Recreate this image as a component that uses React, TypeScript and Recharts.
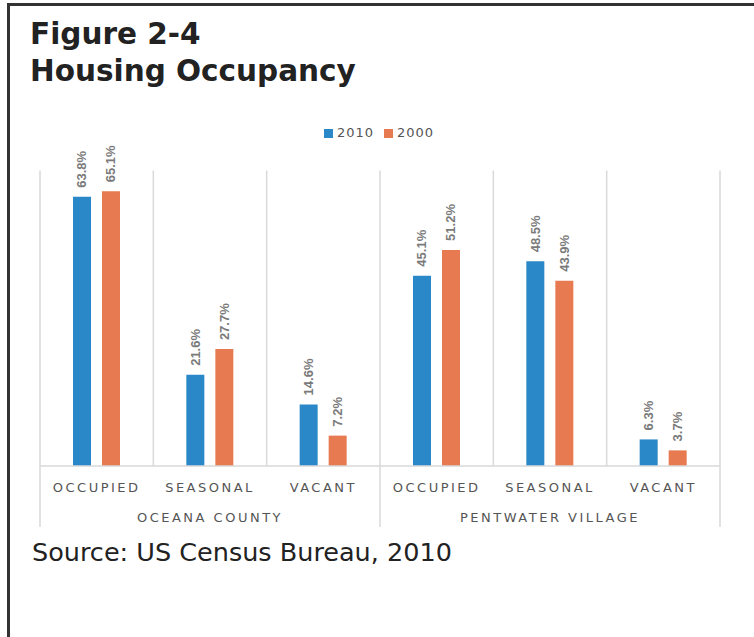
import React from 'react';
import { BarChart, Bar, XAxis, YAxis, CartesianGrid, Legend, LabelList } from 'recharts';

const categories = ['OCCUPIED', 'SEASONAL', 'VACANT', 'OCCUPIED', 'SEASONAL', 'VACANT'];
const groups = ['OCEANA COUNTY', 'OCEANA COUNTY', 'OCEANA COUNTY', 'PENTWATER VILLAGE', 'PENTWATER VILLAGE', 'PENTWATER VILLAGE'];
const values2010 = [63.8, 21.6, 14.6, 45.1, 48.5, 6.3];
const values2000 = [65.1, 27.7, 7.2, 51.2, 43.9, 3.7];
const seriesOrder = ['2010', '2000'];

const data = categories.map((cat, i) => ({
  cat,
  group: groups[i],
  y2010: values2010[i],
  y2000: values2000[i],
}));

const BLUE = '#2a88c9';
const ORANGE = '#e87a51';
const GRID = '#d9d9d9';
const AXIS_TEXT = '#555';

const CategoryTick = (props: any) => {
  const { x, y, payload, index } = props;
  const half = payload?.offset ?? props.width / props.visibleTicksCount / 2;
  const lines: number[] = [];
  // group separators reach below the axis
  if (index === 0 || groups[index] !== groups[index - 1]) lines.push(x - half);
  if (index === categories.length - 1) lines.push(x + half);
  return (
    <g>
      {lines.map((lx) => (
        <line key={lx} x1={lx} x2={lx} y1={y - 8} y2={y + 53} stroke={GRID} strokeWidth={1.5} />
      ))}
      <text
        x={x}
        y={y + 13}
        textAnchor="middle"
        dominantBaseline="central"
        fontFamily="DejaVu Sans"
        fontSize={13}
        letterSpacing={2.5}
        fill={AXIS_TEXT}
      >
        {payload.value}
      </text>
    </g>
  );
};

const GroupTick = (props: any) => {
  const { x, y, payload } = props;
  return (
    <text
      x={x}
      y={y + 7}
      textAnchor="middle"
      dominantBaseline="central"
      fontFamily="DejaVu Sans"
      fontSize={13}
      letterSpacing={2.5}
      fill={AXIS_TEXT}
    >
      {payload.value}
    </text>
  );
};

const RotatedLabel = (props: any) => {
  const { x, y, width, value } = props;
  const cx = x + width / 2;
  const ty = y - 9;
  return (
    <text
      x={cx}
      y={ty}
      transform={`rotate(-90 ${cx} ${ty})`}
      textAnchor="start"
      dominantBaseline="central"
      fontFamily="Liberation Sans"
      fontWeight="bold"
      fontSize={13}
      fill="#7a7a7a"
    >
      {Number(value).toFixed(1)}%
    </text>
  );
};

export default function App() {
  return (
    <div
      style={{
        position: 'absolute',
        left: 0,
        top: 0,
        width: 754,
        height: 637,
        background: '#fff',
        overflow: 'hidden',
      }}
    >
      {/* frame */}
      <div
        style={{
          position: 'absolute',
          left: 7,
          top: 3,
          width: 760,
          height: 650,
          borderLeft: '3px solid #333',
          borderTop: '3px solid #333',
        }}
      />
      <div
        style={{
          position: 'absolute',
          left: 30,
          top: 16,
          fontFamily: 'DejaVu Sans',
          fontWeight: 'bold',
          fontSize: 29.5,
          lineHeight: '37px',
          color: '#222',
        }}
      >
        Figure 2-4
        <br />
        Housing Occupancy
      </div>

      <div style={{ position: 'absolute', left: 0, top: 0 }}>
        <BarChart
          width={754}
          height={637}
          data={data}
          margin={{ top: 170.6, right: 34, bottom: 105, left: 40 }}
          barGap={11}
          barSize={18}
        >
          <CartesianGrid
            horizontal={false}
            stroke={GRID}
            strokeWidth={1.5}
            verticalCoordinatesGenerator={({ offset }: any) =>
              categories.map((_, i) => offset.left + (i * offset.width) / categories.length).concat(offset.left + offset.width)
            }
          />
          <XAxis
            xAxisId="cat"
            dataKey="cat"
            height={36}
            tickLine={false}
            axisLine={{ stroke: GRID, strokeWidth: 1.5 }}
            tick={<CategoryTick />}
            interval={0}
          />
          <XAxis
            xAxisId="group"
            dataKey="group"
            allowDuplicatedCategory={false}
            height={30}
            tickLine={false}
            axisLine={false}
            tick={<GroupTick />}
            interval={0}
          />
          <YAxis hide domain={[0, 70]} />
          <Legend
            verticalAlign="middle"
            align="center"
            iconType="square"
            iconSize={9}
            itemSorter={(item: any) => seriesOrder.indexOf(String(item.value))}
            wrapperStyle={{ top: 123, left: 44, width: 680 }}
            formatter={(value: string) => (
              <span style={{ color: AXIS_TEXT, fontFamily: 'DejaVu Sans', fontSize: 13, letterSpacing: 1 }}>{value}</span>
            )}
          />
          <Bar xAxisId="cat" dataKey="y2010" name="2010" fill={BLUE} isAnimationActive={false}>
            <LabelList dataKey="y2010" content={<RotatedLabel />} />
          </Bar>
          <Bar xAxisId="cat" dataKey="y2000" name="2000" fill={ORANGE} isAnimationActive={false}>
            <LabelList dataKey="y2000" content={<RotatedLabel />} />
          </Bar>
        </BarChart>
      </div>

      <div
        style={{
          position: 'absolute',
          left: 32,
          top: 536,
          fontFamily: 'DejaVu Sans',
          fontSize: 25.5,
          lineHeight: '32px',
          color: '#222',
        }}
      >
        Source: US Census Bureau, 2010
      </div>
    </div>
  );
}
